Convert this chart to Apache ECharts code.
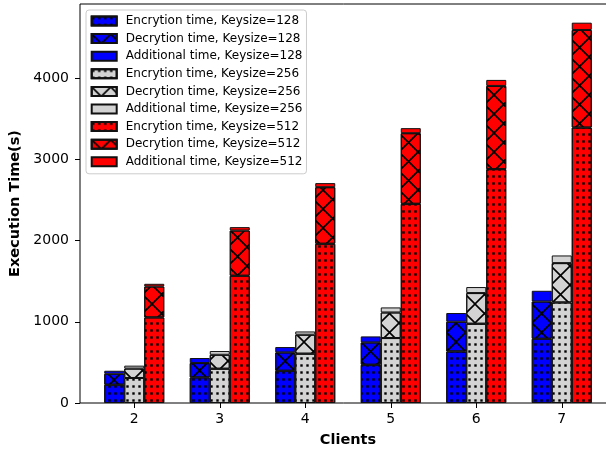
<!DOCTYPE html>
<html>
<head>
<meta charset="utf-8">
<script src="https://cdn.jsdelivr.net/npm/echarts@6/dist/echarts.min.js"></script>
<style>
  html, body { margin: 0; padding: 0; background: #ffffff; overflow: hidden; }
  #chart { width: 606px; height: 450px; }
</style>
</head>
<body>
<div id="chart"></div>
<script>
// Number of clients on the x axis
const clients = ['2', '3', '4', '5', '6', '7'];

// Execution time parts (seconds) per key size
const enc128 = [225, 315, 397, 471, 635, 791];
const dec128 = [135, 177, 226, 275, 366, 459];
const add128 = [37, 62, 66, 74, 107, 132];

const enc256 = [308, 422, 607, 800, 976, 1238];
const dec256 = [116, 172, 234, 315, 378, 485];
const add256 = [36, 46, 40, 62, 74, 94];

const enc512 = [1054, 1567, 1961, 2453, 2880, 3392];
const dec512 = [381, 557, 697, 870, 1025, 1202];
const add512 = [33, 42, 50, 62, 74, 90];

const yTicks = [0, 1000, 2000, 3000, 4000];

const FONT = 'DejaVu Sans';

// hatch patterns
const dotHatch = {
  symbol: 'rect',
  symbolSize: 0.8,
  color: '#000000',
  dashArrayX: [3, 3],
  dashArrayY: [3, 4],
  rotation: 0
};
const crossHatch = {
  symbol: 'path://M0,0 L6,0 L100,94 L100,100 L94,100 L0,6 Z M100,0 L100,6 L6,100 L0,100 L0,94 L94,0 Z',
  symbolSize: 1,
  symbolKeepAspect: false,
  color: '#000000',
  dashArrayX: [19, 0],
  dashArrayY: [19, 0],
  rotation: 0
};

const groups = [
  { key: '128', color: '#0000ff', parts: [enc128, dec128, add128] },
  { key: '256', color: '#d3d3d3', parts: [enc256, dec256, add256] },
  { key: '512', color: '#ff0000', parts: [enc512, dec512, add512] }
];
const partNames = ['Encrytion time', 'Decrytion time', 'Additional time'];
const partDecals = [dotHatch, crossHatch, null];

const series = [];
groups.forEach(g => {
  g.parts.forEach((vals, i) => {
    const itemStyle = { color: g.color, borderColor: '#111111', borderWidth: 1 };
    if (partDecals[i]) itemStyle.decal = partDecals[i];
    series.push({
      name: partNames[i] + ', Keysize=' + g.key,
      type: 'bar',
      stack: 'k' + g.key,
      barWidth: 20,
      barGap: '0%',
      xAxisIndex: 0,
      yAxisIndex: 0,
      itemStyle: itemStyle,
      emphasis: { disabled: true },
      data: vals
    });
  });
});

const hiddenAxis = {
  show: false, axisLine: { show: false }, axisTick: { show: false },
  axisLabel: { show: false }, splitLine: { show: false }
};

const chart = echarts.init(document.getElementById('chart'), null, { renderer: 'canvas' });
chart.setOption({
  animation: false,
  backgroundColor: '#ffffff',
  textStyle: { fontFamily: FONT },
  grid: [
    // data area
    { left: 91.5, right: 1.5, top: 4, bottom: 47, show: false, containLabel: false, outerBoundsMode: 'none' },
    // surrounding frame
    { left: 80, right: -10, top: 4, bottom: 47, show: true, borderColor: '#000000', borderWidth: 1,
      backgroundColor: 'transparent', containLabel: false, outerBoundsMode: 'none' }
  ],
  legend: {
    orient: 'vertical',
    left: 86,
    top: 10,
    padding: [5, 4, 6, 4.7],
    itemWidth: 25,
    itemHeight: 9,
    itemGap: 5.6,
    icon: 'rect',
    borderColor: '#cccccc',
    borderWidth: 1,
    borderRadius: 3,
    backgroundColor: 'rgba(255,255,255,0.8)',
    textStyle: { fontFamily: FONT, fontSize: 12, color: '#000000', lineHeight: 12, padding: [0, 0, 0, 4] },
    selectedMode: false,
    z: 10
  },
  xAxis: [
    {
      type: 'category',
      gridIndex: 0,
      data: clients,
      boundaryGap: true,
      name: 'Clients',
      nameLocation: 'middle',
      nameGap: 30,
      nameTextStyle: { fontFamily: FONT, fontSize: 14.5, fontWeight: 'bold', color: '#000000' },
      axisLine: { show: false },
      axisTick: { show: true, alignWithLabel: true, length: 5, lineStyle: { color: '#000000' } },
      axisLabel: { margin: 9, fontFamily: FONT, fontSize: 14, color: '#000000' },
      splitLine: { show: false }
    },
    Object.assign({ type: 'value', gridIndex: 1, min: 0, max: 1 }, hiddenAxis)
  ],
  yAxis: [
    {
      type: 'value',
      gridIndex: 0,
      min: 0,
      max: 4914,
      offset: 11.5,
      name: 'Execution Time(s)',
      nameLocation: 'middle',
      nameGap: 39,
      nameTextStyle: { fontFamily: FONT, fontSize: 14.5, fontWeight: 'bold', color: '#000000' },
      axisLine: { show: false },
      axisTick: { show: true, length: 5, customValues: yTicks, lineStyle: { color: '#000000' } },
      axisLabel: { customValues: yTicks, margin: 11, fontFamily: FONT, fontSize: 14, color: '#000000', formatter: v => String(v) },
      splitLine: { show: false }
    },
    Object.assign({ type: 'value', gridIndex: 1, min: 0, max: 1 }, hiddenAxis)
  ],
  series: series
});
</script>
</body>
</html>
